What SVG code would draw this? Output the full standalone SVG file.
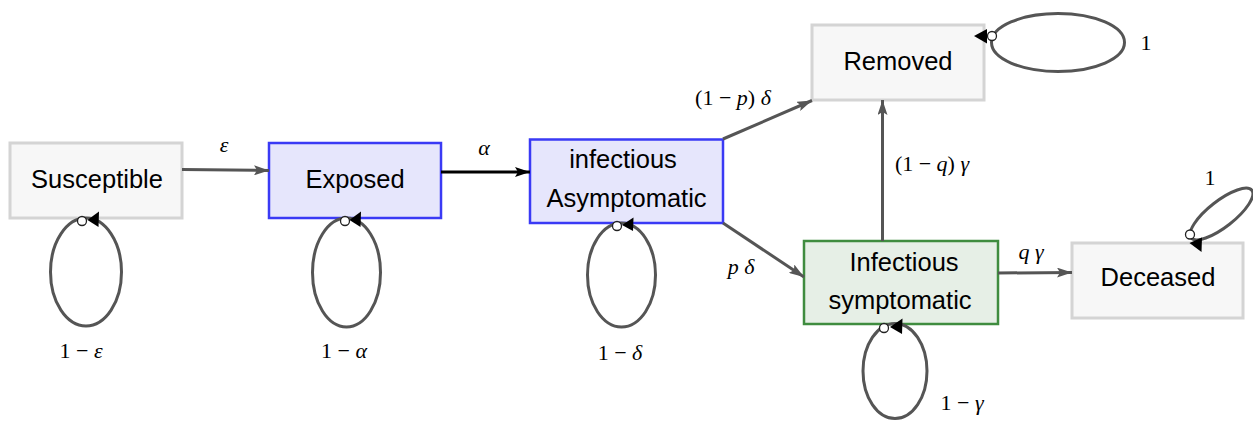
<svg xmlns="http://www.w3.org/2000/svg" width="1253" height="421" viewBox="0 0 1253 421">
  <defs>
    <style>
      .box-grey { fill: #f7f7f7; stroke: #d4d4d4; stroke-width: 3; }
      .box-blue { fill: #e6e6fc; stroke: #3a3af5; stroke-width: 2.5; }
      .box-green { fill: #e6efe6; stroke: #3f8c3f; stroke-width: 2.5; }
      .name { font-family: "Liberation Sans", Arial, sans-serif; font-size: 25.5px; fill: #000; text-anchor: middle; }
      .edge { fill: none; stroke: #555; stroke-width: 3; }
      .edge-black { fill: none; stroke: #000; stroke-width: 3; }
      .loop { fill: none; stroke: #555; stroke-width: 3; }
      .start { fill: #fff; stroke: #222; stroke-width: 1.3; }
      .head { fill: #000; }
      .math { font-family: "Liberation Serif", "Times New Roman", serif; font-size: 22px; fill: #000; text-anchor: middle; }
      .var { font-style: italic; }
    </style>
    <marker id="arrow-grey" viewBox="0 0 15 10" refX="15" refY="5" markerWidth="15" markerHeight="10" markerUnits="userSpaceOnUse" orient="auto">
      <path d="M0,0 L15,5 L0,10 L3,5 z" fill="#555"/>
    </marker>
    <marker id="arrow-black" viewBox="0 0 15 10" refX="15" refY="5" markerWidth="15" markerHeight="10" markerUnits="userSpaceOnUse" orient="auto">
      <path d="M0,0 L15,5 L0,10 L3,5 z" fill="#000"/>
    </marker>
  </defs>

  <g id="susceptible">
    <rect class="box-grey" x="10" y="143" width="172" height="75"/>
    <text class="name" x="97" y="188">Susceptible</text>
  </g>
  <g id="exposed">
    <rect class="box-blue" x="269" y="143" width="172" height="75"/>
    <text class="name" x="355" y="188">Exposed</text>
  </g>
  <g id="infectious-asymptomatic">
    <rect class="box-blue" x="530" y="139.5" width="193" height="83.5"/>
    <text class="name" x="623" y="168">infectious</text>
    <text class="name" x="626.5" y="207">Asymptomatic</text>
  </g>
  <g id="removed">
    <rect class="box-grey" x="812" y="25" width="172" height="75"/>
    <text class="name" x="898" y="70">Removed</text>
  </g>
  <g id="infectious-symptomatic">
    <rect class="box-green" x="804" y="241" width="194" height="83"/>
    <text class="name" x="904" y="271">Infectious</text>
    <text class="name" x="900" y="309">symptomatic</text>
  </g>
  <g id="deceased">
    <rect class="box-grey" x="1072" y="243" width="171" height="75"/>
    <text class="name" x="1158" y="286">Deceased</text>
  </g>

  <!-- transitions between compartments -->
  <g id="connectors">
    <line class="edge" x1="182" y1="169.5" x2="269" y2="170.5" marker-end="url(#arrow-grey)"/>
    <line class="edge-black" x1="441" y1="172" x2="530" y2="172" marker-end="url(#arrow-black)"/>
    <line class="edge" x1="723" y1="139" x2="812" y2="100.5" marker-end="url(#arrow-grey)"/>
    <line class="edge" x1="723" y1="223" x2="804" y2="277" marker-end="url(#arrow-grey)"/>
    <line class="edge" x1="882.5" y1="241" x2="882.5" y2="100" marker-end="url(#arrow-grey)"/>
    <line class="edge" x1="998" y1="273" x2="1072" y2="272.5" marker-end="url(#arrow-grey)"/>

    <!-- self loops: open circle marks the start, black head the end -->
    <ellipse class="loop" cx="86" cy="272" rx="35.5" ry="54"/>
    <circle class="start" cx="82" cy="221" r="4.5"/>
    <path class="head" d="M87.5,220 L99,211.5 L98.5,227 z"/>

    <ellipse class="loop" cx="346.5" cy="272.5" rx="34" ry="54.5"/>
    <circle class="start" cx="345" cy="221" r="4.5"/>
    <path class="head" d="M349.5,220 L361,211.5 L360.5,227 z"/>

    <ellipse class="loop" cx="621.5" cy="275" rx="34" ry="52"/>
    <circle class="start" cx="617" cy="226" r="4.5"/>
    <path class="head" d="M622,225 L633.5,217.5 L633,231 z"/>

    <ellipse class="loop" cx="895" cy="371" rx="32" ry="47.5"/>
    <circle class="start" cx="884" cy="328" r="4.5"/>
    <path class="head" d="M890,327 L902.5,318.5 L902,334 z"/>

    <ellipse class="loop" cx="1058" cy="42.5" rx="66.5" ry="29"/>
    <circle class="start" cx="992" cy="36" r="4.5"/>
    <path class="head" d="M974,36 L987,29 L987,43.5 z"/>

    <ellipse class="loop" cx="1221.5" cy="214" rx="38.5" ry="13" transform="rotate(-38 1221.5 214)"/>
    <circle class="start" cx="1190" cy="234.5" r="4.5"/>
    <path class="head" d="M1189.5,243 L1202,237.5 L1201.5,252 z"/>
  </g>

  <!-- rate labels -->
  <g id="labels">
    <text class="math var" x="224" y="152">ε</text>
    <text class="math var" x="484" y="155">α</text>
    <text class="math" x="733" y="105">(1 − <tspan class="var">p</tspan>) <tspan class="var">δ</tspan></text>
    <text class="math" x="741" y="274"><tspan class="var">p</tspan> <tspan class="var">δ</tspan></text>
    <text class="math" x="932" y="171">(1 − <tspan class="var">q</tspan>) <tspan class="var">γ</tspan></text>
    <text class="math" x="1031" y="259"><tspan class="var">q</tspan> <tspan class="var">γ</tspan></text>
    <text class="math" x="81" y="358">1 − <tspan class="var">ε</tspan></text>
    <text class="math" x="344" y="358">1 − <tspan class="var">α</tspan></text>
    <text class="math" x="620" y="360">1 − <tspan class="var">δ</tspan></text>
    <text class="math" x="962" y="410">1 − <tspan class="var">γ</tspan></text>
    <text class="math" x="1146" y="50">1</text>
    <text class="math" x="1210" y="185">1</text>
  </g>
</svg>
